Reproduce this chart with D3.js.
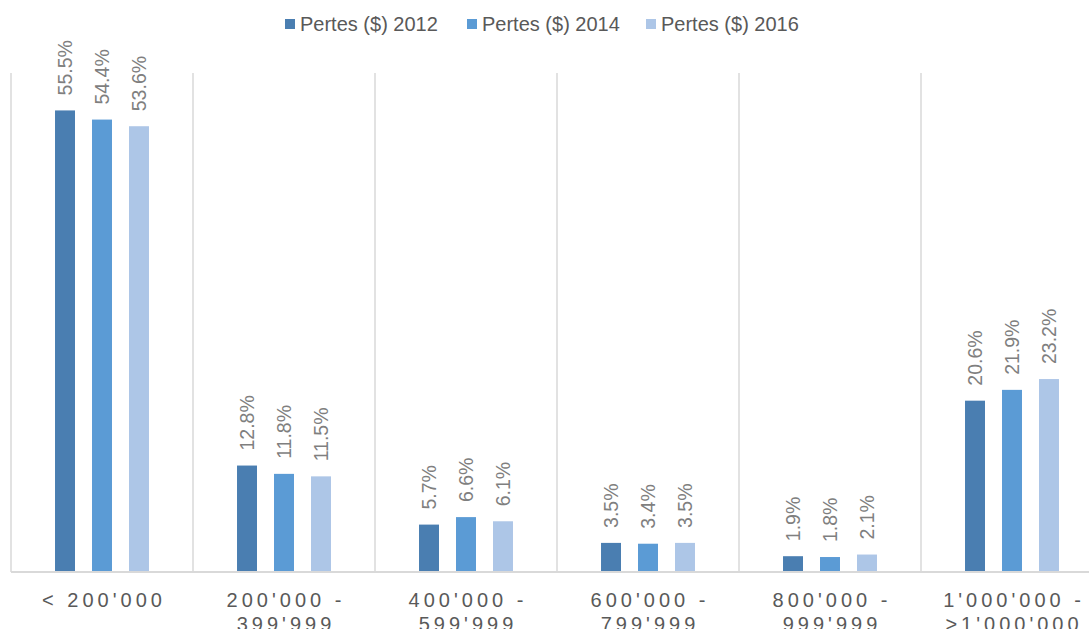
<!DOCTYPE html>
<html>
<head>
<meta charset="utf-8">
<script src="https://cdn.jsdelivr.net/npm/d3@7"></script>
<style>
  body { margin: 0; background: #fff; }
  svg { display: block; font-family: "Liberation Sans", Arial, sans-serif; }
</style>
</head>
<body>
<svg id="chart" width="1089" height="629"></svg>
<script>
var categories = [
    "< 200'000",
    "200'000 - 399'999",
    "400'000 - 599'999",
    "600'000 - 799'999",
    "800'000 - 999'999",
    "1'000'000 - >1'000'000"
];
var seriesNames = ['Pertes ($) 2012', 'Pertes ($) 2014', 'Pertes ($) 2016'];
var values2012 = [55.5, 12.8, 5.7, 3.5, 1.9, 20.6];
var values2014 = [54.4, 11.8, 6.6, 3.4, 1.8, 21.9];
var values2016 = [53.6, 11.5, 6.1, 3.5, 2.1, 23.2];
var colors = ['#4a7eb1', '#5b9bd5', '#adc6e7'];

var seriesValues = [values2012, values2014, values2016];

var svg = d3.select('#chart');

// plot area runs past the right edge of the picture, like the original
var margin = { left: 11, top: 73, bottom: 57 };
var plotW = 182 * 6;
var baseY = 572;

var x0 = d3.scaleBand()
    .domain(categories)
    .range([margin.left, margin.left + plotW]);

var x1 = d3.scaleBand()
    .domain(seriesNames)
    .range([0, x0.bandwidth()])
    .paddingInner(0.46)
    .paddingOuter(1.19);

var y = d3.scaleLinear().domain([0, 60]).range([baseY, margin.top]);

// vertical separators between categories
var bounds = categories.map(function(c) { return x0(c); });
bounds.push(margin.left + plotW);
svg.append('g')
    .selectAll('line')
    .data(bounds)
    .enter()
    .append('line')
    .attr('x1', d => d)
    .attr('x2', d => d)
    .attr('y1', y(60))
    .attr('y2', baseY)
    .attr('stroke', '#d9d9d9')
    .attr('stroke-width', 1.5);

// bars
var groups = svg.append('g')
    .selectAll('g')
    .data(categories)
    .enter()
    .append('g')
    .attr('transform', d => 'translate(' + x0(d) + ',0)');

var cells = groups.selectAll('g')
    .data(function(c, i) {
        return seriesNames.map(function(s, j) {
            return { series: s, idx: j, value: seriesValues[j][i] };
        });
    })
    .enter()
    .append('g');

cells.append('rect')
    .attr('x', d => x1(d.series))
    .attr('y', d => y(d.value))
    .attr('width', x1.bandwidth())
    .attr('height', d => baseY - y(d.value))
    .attr('fill', d => colors[d.idx]);

// rotated value labels
cells.append('text')
    .attr('transform', function(d) {
        var cx = x1(d.series) + x1.bandwidth() / 2;
        return 'translate(' + cx + ',' + (y(d.value) - 15) + ') rotate(-90)';
    })
    .attr('dy', '0.35em')
    .attr('font-size', 19.5)
    .attr('fill', '#7f7f7f')
    .text(d => d.value.toFixed(1) + '%');

// baseline
svg.append('line')
    .attr('x1', margin.left)
    .attr('x2', margin.left + plotW)
    .attr('y1', baseY)
    .attr('y2', baseY)
    .attr('stroke', '#d9d9d9')
    .attr('stroke-width', 2);

// category labels, wrapped after the dash
var catText = svg.append('g')
    .selectAll('text')
    .data(categories)
    .enter()
    .append('text')
    .attr('x', d => x0(d) + x0.bandwidth() / 2 + 2)
    .attr('y', 607)
    .attr('text-anchor', 'middle')
    .attr('font-size', 20)
    .attr('letter-spacing', 4)
    .attr('fill', '#595959');

catText.each(function(d) {
    var parts = d.split(/(?<=-) /);
    var t = d3.select(this);
    parts.forEach(function(p, i) {
        t.append('tspan')
            .attr('x', x0(d) + x0.bandwidth() / 2 + 2)
            .attr('dy', i === 0 ? 0 : 24)
            .text(p);
    });
});

// legend
var legendX = [285, 467, 646];
var legend = svg.append('g')
    .selectAll('g')
    .data(seriesNames)
    .enter()
    .append('g')
    .attr('transform', (d, i) => 'translate(' + legendX[i] + ',0)');

legend.append('rect')
    .attr('x', 0)
    .attr('y', 19)
    .attr('width', 10)
    .attr('height', 10)
    .attr('fill', (d, i) => colors[i]);

legend.append('text')
    .attr('x', 15)
    .attr('y', 31)
    .attr('font-size', 20)
    .attr('fill', '#595959')
    .text(d => d);
</script>
</body>
</html>
